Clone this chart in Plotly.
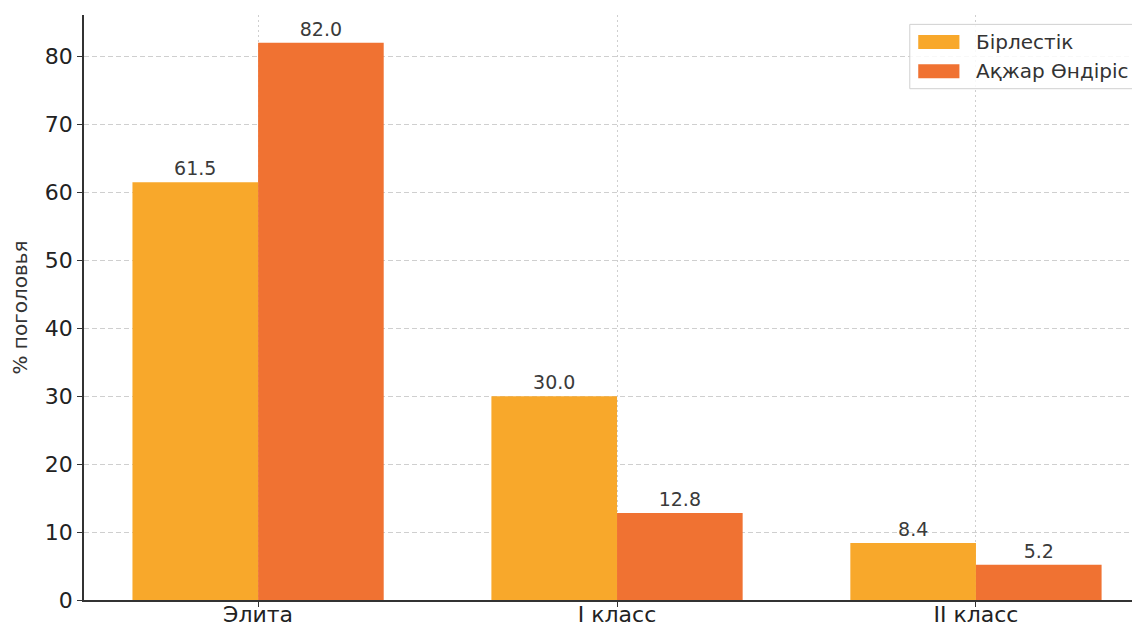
import plotly.graph_objects as go

categories = ["Элита", "I класс", "II класс"]
birlestik = [61.5, 30.0, 8.4]
akzhar = [82.0, 12.8, 5.2]
series_names = ["Бірлестік", "Ақжар Өндіріс"]
colors = ["#F8A82B", "#F07232"]
yticks = [0, 10, 20, 30, 40, 50, 60, 70, 80]

xpos = list(range(len(categories)))
font = "DejaVu Sans"

fig = go.Figure()
for name, vals, col in zip(series_names, [birlestik, akzhar], colors):
    fig.add_trace(go.Bar(
        x=xpos, y=vals, name=name, marker=dict(color=col, line=dict(width=0)),
        text=[f"{v:.1f}" for v in vals], textposition="outside",
        textfont=dict(family=font, size=19, color="#3a3a3a"),
        cliponaxis=False, showlegend=False,
    ))

# legend drawn manually (wide matplotlib-style patches)
shapes = [dict(type="rect", xref="paper", yref="paper", x0=0.782, x1=0.998, y0=0.874, y1=0.984,
               line=dict(color="#d0d0d0", width=1), fillcolor="rgba(255,255,255,0.85)", layer="above")]
annotations = []
patch_y = [(0.942, 0.966), (0.892, 0.916)]
for (y0, y1), name, col in zip(patch_y, series_names, colors):
    shapes.append(dict(type="rect", xref="paper", yref="paper", x0=0.790, x1=0.829, y0=y0, y1=y1,
                       line=dict(width=0), fillcolor=col, layer="above"))
    annotations.append(dict(xref="paper", yref="paper", x=0.843, y=(y0 + y1) / 2, text=name,
                            showarrow=False, xanchor="left", yanchor="middle",
                            font=dict(family=font, size=20, color="#333333")))

fig.update_layout(
    width=1140, height=626,
    margin=dict(l=76, r=8, t=7, b=34),
    plot_bgcolor="white", paper_bgcolor="white",
    barmode="group", bargap=0.3, bargroupgap=0,
    font=dict(family=font, color="#222222"),
    showlegend=False,
    shapes=shapes, annotations=annotations,
    xaxis=dict(
        range=[-0.485, 2.457], tickvals=xpos, ticktext=categories, automargin=False,
        tickfont=dict(family=font, size=22, color="#222222"),
        showgrid=True, gridcolor="#cfcfcf", griddash="2px,3px", gridwidth=1,
        showline=True, linecolor="#333333", linewidth=1.5,
        ticks="outside", ticklen=5, tickcolor="#333333", zeroline=False,
        ticklabelstandoff=-11,
    ),
    yaxis=dict(
        range=[0, 86.1], tickvals=yticks, automargin=False,
        tickfont=dict(family=font, size=22, color="#222222"),
        showgrid=True, gridcolor="#cfcfcf", griddash="5px,3px", gridwidth=1,
        showline=True, linecolor="#333333", linewidth=1.5,
        ticks="outside", ticklen=5, tickcolor="#333333", zeroline=False,
        title=dict(text="% поголовья", font=dict(family=font, size=20, color="#333333"), standoff=14),
    ),
)

fig.write_html("out.html")
